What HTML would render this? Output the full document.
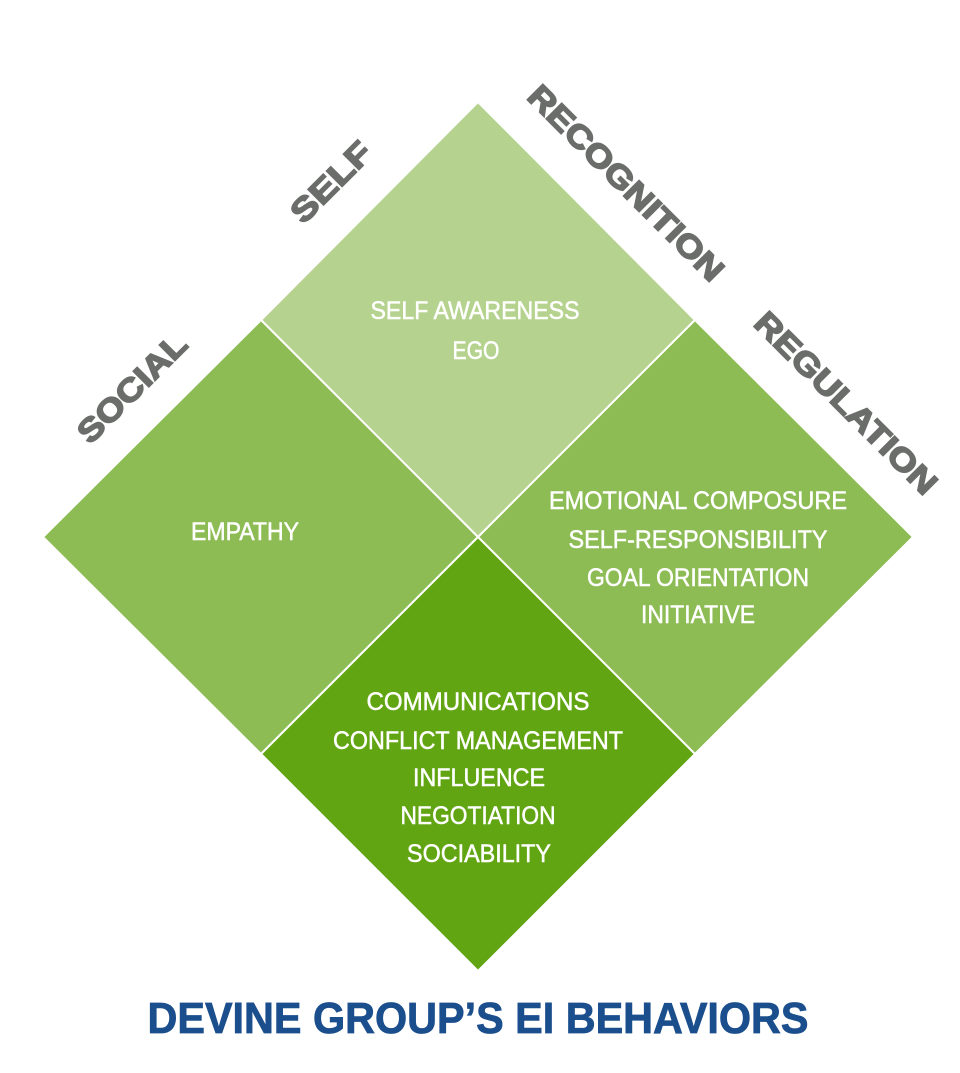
<!DOCTYPE html>
<html><head><meta charset="utf-8"><style>
html,body{margin:0;padding:0;background:#fff;}
svg{display:block;}
.w{fill:#fff;font-family:"Liberation Sans",sans-serif;font-size:25px;stroke:#fff;stroke-width:0.5;}
.g{fill:#6b6d6b;stroke:#6b6d6b;stroke-width:1.6;font-family:"Liberation Sans",sans-serif;font-size:32px;font-weight:bold;}
</style></head><body>
<svg width="960" height="1073" viewBox="0 0 960 1073" xmlns="http://www.w3.org/2000/svg">
<g stroke="#fff" stroke-width="2">
<polygon points="478,102 695,320 478,537 261,320" fill="#b5d38e"/>
<polygon points="261,320 478,537 261,754 43,537" fill="#8dbc55"/>
<polygon points="695,320 913,537 695,754 478,537" fill="#8dbc55"/>
<polygon points="478,537 695,754 478,971 261,754" fill="#62a513"/>
</g>
<g class="w" text-anchor="middle">
<text x="475" y="319" textLength="209" lengthAdjust="spacingAndGlyphs">SELF AWARENESS</text>
<text x="476" y="359" textLength="47" lengthAdjust="spacingAndGlyphs">EGO</text>
<text x="245" y="540" textLength="108" lengthAdjust="spacingAndGlyphs">EMPATHY</text>
<text x="698" y="509" textLength="298" lengthAdjust="spacingAndGlyphs">EMOTIONAL COMPOSURE</text>
<text x="698" y="548" textLength="259" lengthAdjust="spacingAndGlyphs">SELF-RESPONSIBILITY</text>
<text x="698" y="586" textLength="222" lengthAdjust="spacingAndGlyphs">GOAL ORIENTATION</text>
<text x="698" y="623" textLength="114" lengthAdjust="spacingAndGlyphs">INITIATIVE</text>
<text x="478" y="710" textLength="223" lengthAdjust="spacingAndGlyphs">COMMUNICATIONS</text>
<text x="478" y="749" textLength="290" lengthAdjust="spacingAndGlyphs">CONFLICT MANAGEMENT</text>
<text x="479" y="786" textLength="132" lengthAdjust="spacingAndGlyphs">INFLUENCE</text>
<text x="478" y="824" textLength="155" lengthAdjust="spacingAndGlyphs">NEGOTIATION</text>
<text x="479" y="862" textLength="144" lengthAdjust="spacingAndGlyphs">SOCIABILITY</text>
</g>
<g class="g" text-anchor="middle">
<text transform="translate(331,182) rotate(-45)" x="0" y="11" textLength="100" lengthAdjust="spacingAndGlyphs">SELF</text>
<text transform="translate(132,388) rotate(-45)" x="0" y="11" textLength="140" lengthAdjust="spacingAndGlyphs">SOCIAL</text>
<text transform="translate(626,183) rotate(45)" x="0" y="11" textLength="262" lengthAdjust="spacingAndGlyphs">RECOGNITION</text>
<text transform="translate(846,403) rotate(45)" x="0" y="11" textLength="243" lengthAdjust="spacingAndGlyphs">REGULATION</text>
</g>
<text x="478" y="1033" text-anchor="middle" fill="#1b4e8c" stroke="#1b4e8c" stroke-width="0.8" font-family="'Liberation Sans',sans-serif" font-weight="bold" font-size="44" textLength="661" lengthAdjust="spacingAndGlyphs">DEVINE GROUP’S EI BEHAVIORS</text>
</svg>
</body></html>
